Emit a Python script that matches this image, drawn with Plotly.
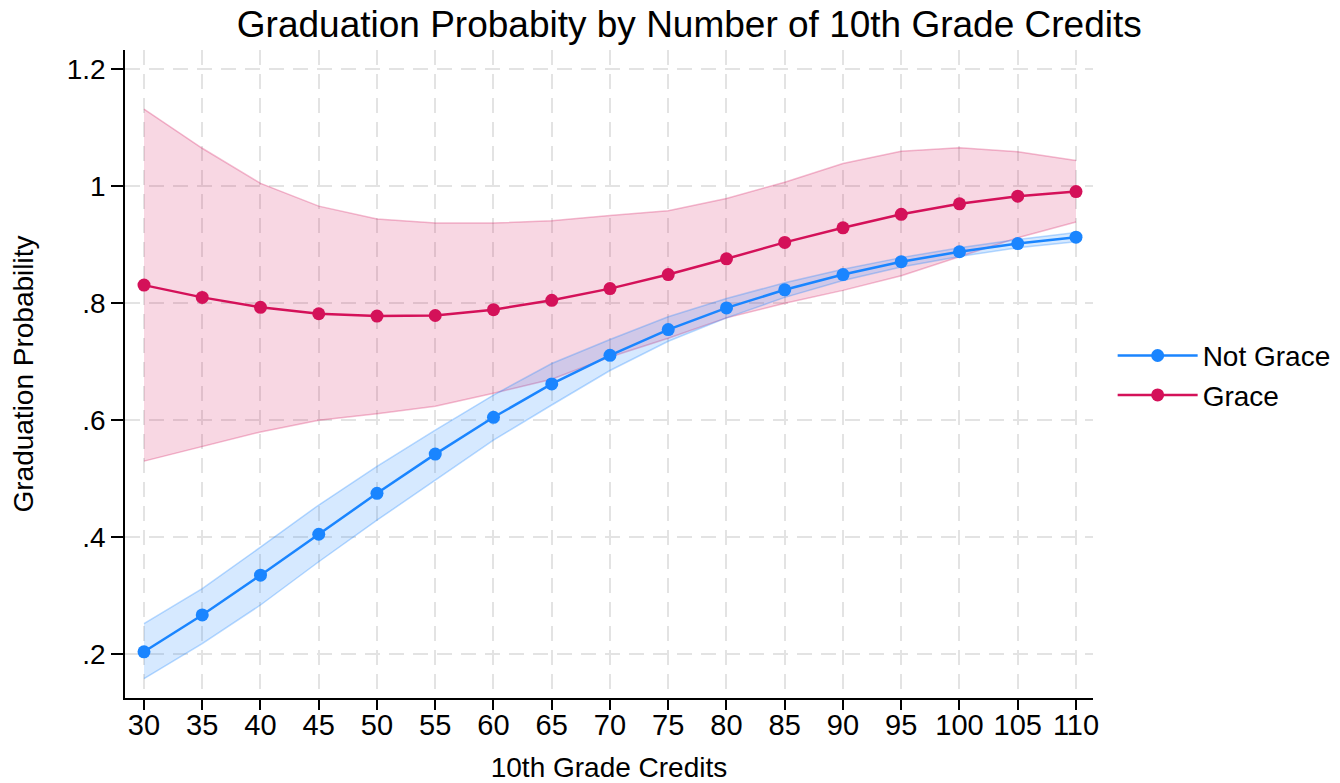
import plotly.graph_objects as go

credits = [30, 35, 40, 45, 50, 55, 60, 65, 70, 75, 80, 85, 90, 95, 100, 105, 110]

not_grace = [0.204, 0.267, 0.335, 0.405, 0.475, 0.542, 0.605, 0.662, 0.711, 0.755,
             0.792, 0.823, 0.849, 0.871, 0.888, 0.902, 0.913]
not_grace_hi = [0.252, 0.312, 0.383, 0.455, 0.521, 0.583, 0.643, 0.697, 0.738, 0.777,
                0.808, 0.835, 0.858, 0.878, 0.895, 0.909, 0.921]
not_grace_lo = [0.158, 0.218, 0.284, 0.358, 0.429, 0.497, 0.566, 0.626, 0.685, 0.735,
                0.775, 0.810, 0.839, 0.862, 0.880, 0.895, 0.905]

grace = [0.831, 0.810, 0.793, 0.782, 0.778, 0.779, 0.789, 0.805, 0.825, 0.849,
         0.876, 0.904, 0.929, 0.952, 0.970, 0.983, 0.991]
grace_hi = [1.132, 1.065, 1.005, 0.966, 0.944, 0.937, 0.937, 0.941, 0.950, 0.958,
            0.979, 1.007, 1.039, 1.060, 1.066, 1.059, 1.044]
grace_lo = [0.530, 0.555, 0.580, 0.600, 0.611, 0.624, 0.646, 0.670, 0.708, 0.740,
            0.775, 0.800, 0.822, 0.847, 0.880, 0.912, 0.939]

y_tickvals = [0.2, 0.4, 0.6, 0.8, 1.0, 1.2]
y_ticktext = [".2", ".4", ".6", ".8", "1", "1.2"]

BLUE = "#1A85FF"
RED = "#D41159"
BLUE_FILL = "rgba(26,133,255,0.18)"
RED_FILL = "rgba(212,17,89,0.17)"
BLUE_EDGE = "rgba(26,133,255,0.30)"
RED_EDGE = "rgba(212,17,89,0.28)"

FONT = "Liberation Sans, Arial, Helvetica, sans-serif"

fig = go.Figure()

# Grace CI band
fig.add_trace(go.Scatter(x=credits, y=grace_hi, mode="lines",
                         line=dict(color=RED_EDGE, width=1.5),
                         showlegend=False, hoverinfo="skip"))
fig.add_trace(go.Scatter(x=credits, y=grace_lo, mode="lines",
                         line=dict(color=RED_EDGE, width=1.5),
                         fill="tonexty", fillcolor=RED_FILL,
                         showlegend=False, hoverinfo="skip"))
# Not Grace CI band
fig.add_trace(go.Scatter(x=credits, y=not_grace_hi, mode="lines",
                         line=dict(color=BLUE_EDGE, width=1.5),
                         showlegend=False, hoverinfo="skip"))
fig.add_trace(go.Scatter(x=credits, y=not_grace_lo, mode="lines",
                         line=dict(color=BLUE_EDGE, width=1.5),
                         fill="tonexty", fillcolor=BLUE_FILL,
                         showlegend=False, hoverinfo="skip"))

fig.add_trace(go.Scatter(x=credits, y=not_grace, mode="lines+markers",
                         name="Not Grace",
                         line=dict(color=BLUE, width=2.5),
                         marker=dict(color=BLUE, size=13)))
fig.add_trace(go.Scatter(x=credits, y=grace, mode="lines+markers",
                         name="Grace",
                         line=dict(color=RED, width=2.5),
                         marker=dict(color=RED, size=13)))

fig.update_layout(
    width=1332, height=775,
    margin=dict(l=117, r=247, t=42, b=85, autoexpand=False),
    paper_bgcolor="white", plot_bgcolor="white",
    font=dict(family=FONT, size=28, color="black"),
    title=dict(text="Graduation Probabity by Number of 10th Grade Credits",
               font=dict(family=FONT, size=37, color="black"),
               xref="container", yref="container",
               x=0.5115, xanchor="center", y=0.979, yanchor="middle"),
    legend=dict(x=1.0203, xanchor="left", y=0.498, yanchor="middle",
                traceorder="normal",
                font=dict(family=FONT, size=28, color="black"),
                bgcolor="rgba(0,0,0,0)", itemwidth=80),
    xaxis=dict(
        range=[28.37, 111.46], automargin=False,
        tickmode="array", tickvals=credits,
        ticks="outside", ticklen=10, tickwidth=1.5, tickcolor="black",
        ticklabelstandoff=-10,
        showline=True, linecolor="black", linewidth=1.5,
        showgrid=True, gridcolor="#e3e3e3", gridwidth=1.5, griddash="15px,9px",
        zeroline=False,
        tickfont=dict(family=FONT, size=29, color="black"),
        title=dict(text="10th Grade Credits", standoff=22,
                   font=dict(family=FONT, size=28, color="black")),
    ),
    yaxis=dict(
        range=[0.125, 1.233], automargin=False,
        tickmode="array", tickvals=y_tickvals, ticktext=y_ticktext,
        ticks="outside", ticklen=12, tickwidth=1.5, tickcolor="black",
        showline=True, linecolor="black", linewidth=1.5,
        showgrid=True, gridcolor="#e3e3e3", gridwidth=1.5, griddash="15px,9px",
        zeroline=False,
        tickfont=dict(family=FONT, size=28, color="black"),
        title=dict(text="Graduation Probability", standoff=26,
                   font=dict(family=FONT, size=28, color="black")),
    ),
)

fig.write_html("out.html")
